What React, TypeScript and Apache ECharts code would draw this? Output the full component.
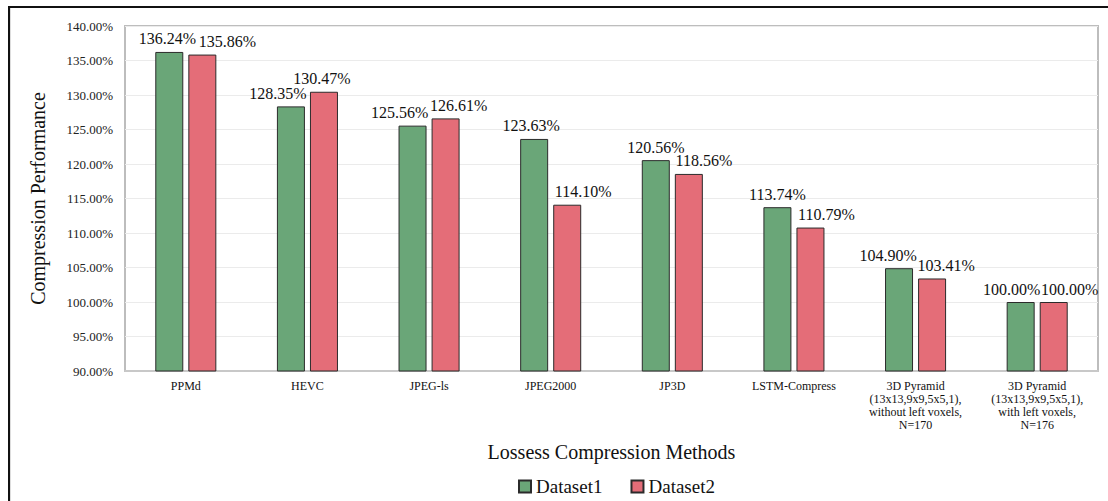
import React, { useEffect, useRef } from "react";
import * as echarts from "echarts";

const categories = [
  "PPMd",
  "HEVC",
  "JPEG-ls",
  "JPEG2000",
  "JP3D",
  "LSTM-Compress",
  "3D Pyramid\n(13x13,9x9,5x5,1),\nwithout left voxels,\nN=170",
  "3D Pyramid\n(13x13,9x9,5x5,1),\nwith left voxels,\nN=176",
];
const dataset1 = [136.24, 128.35, 125.56, 123.63, 120.56, 113.74, 104.9, 100.0];
const dataset2 = [135.86, 130.47, 126.61, 114.1, 118.56, 110.79, 103.41, 100.0];

// label horizontal nudges (layout only), as in the original
const labelShift1 = [-2, -13, -13, -3, 0, 0, -11, -9];
const labelShift2 = [25, -2, 13, 16, 15, 16, 14, 16];

const FONT = "Liberation Serif";
const GREEN = "#6aa678";
const RED = "#e46d78";

export default function App() {
  const ref = useRef<HTMLDivElement>(null);
  useEffect(() => {
    document.body.style.margin = "0";
    const chart = echarts.init(ref.current!, undefined, { renderer: "svg" });
    const labelStyle = {
      show: true,
      position: "top",
      distance: 5,
      fontFamily: "Times New Roman, Liberation Serif, serif",
      fontSize: 16,
      fontWeight: "normal",
      color: "#111",
      formatter: (p: any) => Number(p.value).toFixed(2) + "%",
    };
    const mk = (name: string, vals: number[], shifts: number[], color: string) => ({
      name,
      type: "bar",
      barWidth: 28,
      barGap: "18%",
      itemStyle: { color, borderColor: "#2b2b2b", borderWidth: 1 },
      data: vals.map((v, i) => ({
        value: v,
        label: { ...labelStyle, offset: [shifts[i], 0] },
      })),
      label: labelStyle,
    });
    chart.setOption({
      animation: false,
      textStyle: { fontFamily: FONT },
      grid: {
        left: 125,
        right: 10,
        top: 26,
        bottom: 130,
        show: true,
        borderColor: "#bdbdbd",
        borderWidth: 2,
      },
      legend: {
        left: 513,
        top: 472,
        itemWidth: 12,
        itemHeight: 12,
        itemGap: 28,
        icon: "rect",
        textStyle: { fontFamily: FONT, fontSize: 19, color: "#111" },
        data: ["Dataset1", "Dataset2"],
      },
      xAxis: {
        type: "category",
        data: categories,
        name: "Lossess Compression Methods",
        nameLocation: "middle",
        nameGap: 71,
        nameTextStyle: { fontFamily: FONT, fontSize: 20, color: "#111" },
        axisLine: { lineStyle: { color: "#c8c8c8", width: 2 } },
        axisTick: { show: false },
        axisLabel: {
          interval: 0,
          margin: 8,
          fontFamily: FONT,
          fontSize: 12,
          lineHeight: 13,
          color: "#111",
        },
      },
      yAxis: {
        type: "value",
        min: 90,
        max: 140,
        interval: 5,
        name: "Compression Performance",
        nameLocation: "middle",
        nameGap: 77,
        nameTextStyle: { fontFamily: FONT, fontSize: 20, color: "#111" },
        axisLine: { show: false },
        axisTick: { show: false },
        splitLine: { lineStyle: { color: "#ebebeb", width: 1 } },
        axisLabel: {
          margin: 12,
          fontFamily: FONT,
          fontSize: 13,
          color: "#222",
          formatter: (v: number) => v.toFixed(2) + "%",
        },
      },
      graphic: [
        {
          type: "rect",
          shape: { x: 9, y: 7, width: 1200, height: 600 },
          style: { fill: "none", stroke: "#111", lineWidth: 2 },
          silent: true,
        },
        {
          type: "line",
          shape: { x1: 10.5, y1: 8, x2: 10.5, y2: 510 },
          style: { stroke: "#dddddd", lineWidth: 1 },
          silent: true,
        },
      ],
      series: [
        mk("Dataset1", dataset1, labelShift1, GREEN),
        mk("Dataset2", dataset2, labelShift2, RED),
      ],
    });
    return () => chart.dispose();
  }, []);
  return <div ref={ref} style={{ width: 1108, height: 501 }} />;
}
